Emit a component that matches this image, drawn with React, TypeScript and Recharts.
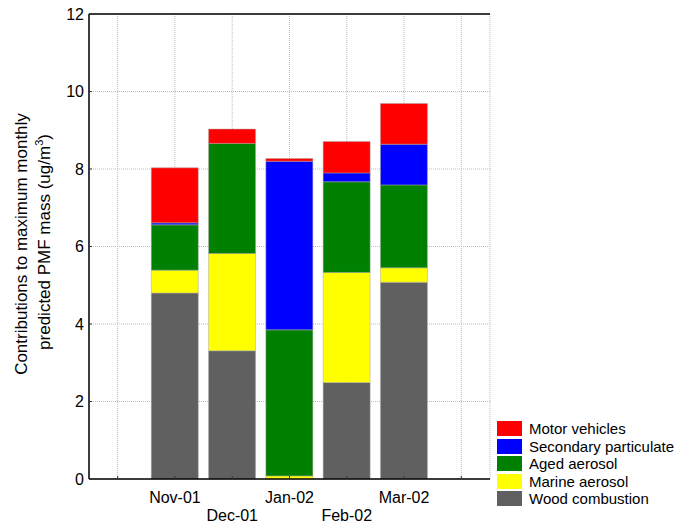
import React from "react";
import {
	Bar,
	BarChart,
	CartesianGrid,
	Legend,
	ReferenceLine,
	XAxis,
	YAxis,
} from "recharts";

// monthly contributions (ug/m3) per source
const months = ["Nov-01", "Dec-01", "Jan-02", "Feb-02", "Mar-02"];
const woodCombustion = [4.8, 3.31, 0, 2.49, 5.08];
const marineAerosol = [0.59, 2.51, 0.08, 2.84, 0.37];
const agedAerosol = [1.17, 2.84, 3.77, 2.34, 2.14];
const secondaryParticulate = [0.05, 0, 4.35, 0.23, 1.05];
const motorVehicles = [1.42, 0.37, 0.07, 0.81, 1.05];
const yTicks = [0, 2, 4, 6, 8, 10, 12];

const series = [
	{ key: "wood", name: "Wood combustion", color: "#606060", values: woodCombustion },
	{ key: "marine", name: "Marine aerosol", color: "#ffff00", values: marineAerosol },
	{ key: "aged", name: "Aged aerosol", color: "#008000", values: agedAerosol },
	{ key: "secondary", name: "Secondary particulate", color: "#0000ff", values: secondaryParticulate },
	{ key: "motor", name: "Motor vehicles", color: "#ff0000", values: motorVehicles },
];

// one empty slot on each side of the months
const rows = [
	{ slot: 0, label: "" },
	...months.map((m, i) => {
		const row: Record<string, number | string> = { slot: i + 1, label: m };
		series.forEach((s) => {
			row[s.key] = s.values[i];
		});
		return row;
	}),
	{ slot: months.length + 1, label: "" },
];

const FONT = "Arial, 'Liberation Sans', sans-serif";
const TICK = "#333";

// bottom ticks: small inward mark + staggered month labels
const MonthTick = (props: any) => {
	const { x, y, payload } = props;
	const idx = Number(payload.value);
	const label = rows[idx]?.label as string;
	const row = (idx - 1) % 2;
	return (
		<g>
			<line x1={x} x2={x} y1={y} y2={y - 3} stroke={TICK} />
			{label && (
				<text
					x={x}
					y={y + 24 + row * 18}
					textAnchor="middle"
					fontSize={16}
					fontFamily={FONT}
					fill="#000"
				>
					{label}
				</text>
			)}
		</g>
	);
};

const TopTick = (props: any) => (
	<line x1={props.x} x2={props.x} y1={props.y} y2={props.y + 3} stroke={TICK} />
);

const LeftTick = (props: any) => {
	const { x, y, payload } = props;
	return (
		<g>
			<line x1={x} x2={x + 3} y1={y} y2={y} stroke={TICK} />
			<text
				x={x - 5}
				y={y}
				dy="0.355em"
				textAnchor="end"
				fontSize={16}
				fontFamily={FONT}
				fill="#000"
			>
				{payload.value}
			</text>
		</g>
	);
};

const RightTick = (props: any) => (
	<line x1={props.x} x2={props.x - 3} y1={props.y} y2={props.y} stroke={TICK} />
);

const YLabel = () => (
	<g fontFamily={FONT} fontSize={17} fill="#000">
		<text transform="rotate(-90)" x={-244} y={27} textAnchor="middle">
			Contributions to maximum monthly
		</text>
		<text transform="rotate(-90)" x={-242} y={50} textAnchor="middle">
			predicted PMF mass (ug/m
			<tspan dy={-7} fontSize={11}>
				3
			</tspan>
			<tspan dy={7}>)</tspan>
		</text>
	</g>
);

const LegendBox = () => (
	<div style={{ fontFamily: FONT, fontSize: 15 }}>
		{[...series].reverse().map((s) => (
			<div
				key={s.key}
				style={{ display: "flex", alignItems: "center", height: 17.5 }}
			>
				<span
					style={{
						display: "inline-block",
						width: 25,
						height: 15,
						background: s.color,
						marginRight: 7,
					}}
				/>
				<span style={{ color: "#000" }}>{s.name}</span>
			</div>
		))}
	</div>
);

export default function App() {
	return (
		<div style={{ position: "absolute", left: 0, top: 0 }}>
			<BarChart
				width={677}
				height={529}
				data={rows}
				margin={{ top: 14, right: 187, left: 0, bottom: 0 }}
				barSize={47}
			>
				<CartesianGrid stroke="#bdbdbd" strokeDasharray="1 1" />
				<XAxis
					dataKey="slot"
					type="category"
					height={50}
					axisLine={{ stroke: "#000", strokeWidth: 1.5 }}
					tickLine={false}
					tickSize={0}
					tickMargin={0}
					interval={0}
					tick={<MonthTick />}
				/>
				<XAxis
					xAxisId="top"
					dataKey="slot"
					type="category"
					orientation="top"
					height={0}
					axisLine={false}
					tickLine={false}
					tickSize={0}
					tickMargin={0}
					interval={0}
					tick={<TopTick />}
				/>
				<YAxis
					domain={[0, 12]}
					ticks={yTicks}
					width={89}
					axisLine={{ stroke: "#000", strokeWidth: 1.5 }}
					tickLine={false}
					tickSize={0}
					tickMargin={0}
					tick={<LeftTick />}
					label={<YLabel />}
				/>
				<YAxis
					yAxisId="right"
					orientation="right"
					domain={[0, 12]}
					ticks={yTicks}
					width={0}
					tickLine={false}
					tickSize={0}
					tickMargin={0}
					tick={<RightTick />}
					axisLine={{ stroke: "#777", strokeWidth: 2 }}
				/>
				<ReferenceLine y={12} stroke="#000" strokeWidth={1.5} />
				{series.map((s) => (
					<Bar
						key={s.key}
						dataKey={s.key}
						name={s.name}
						stackId="a"
						fill={s.color}
						stroke="#a8a8a0"
						strokeWidth={0.5}
						isAnimationActive={false}
					/>
				))}
				<Legend
					layout="vertical"
					align="center"
					verticalAlign="middle"
					content={<LegendBox />}
					wrapperStyle={{ left: 497, top: 420, width: 180 }}
				/>
			</BarChart>
		</div>
	);
}
